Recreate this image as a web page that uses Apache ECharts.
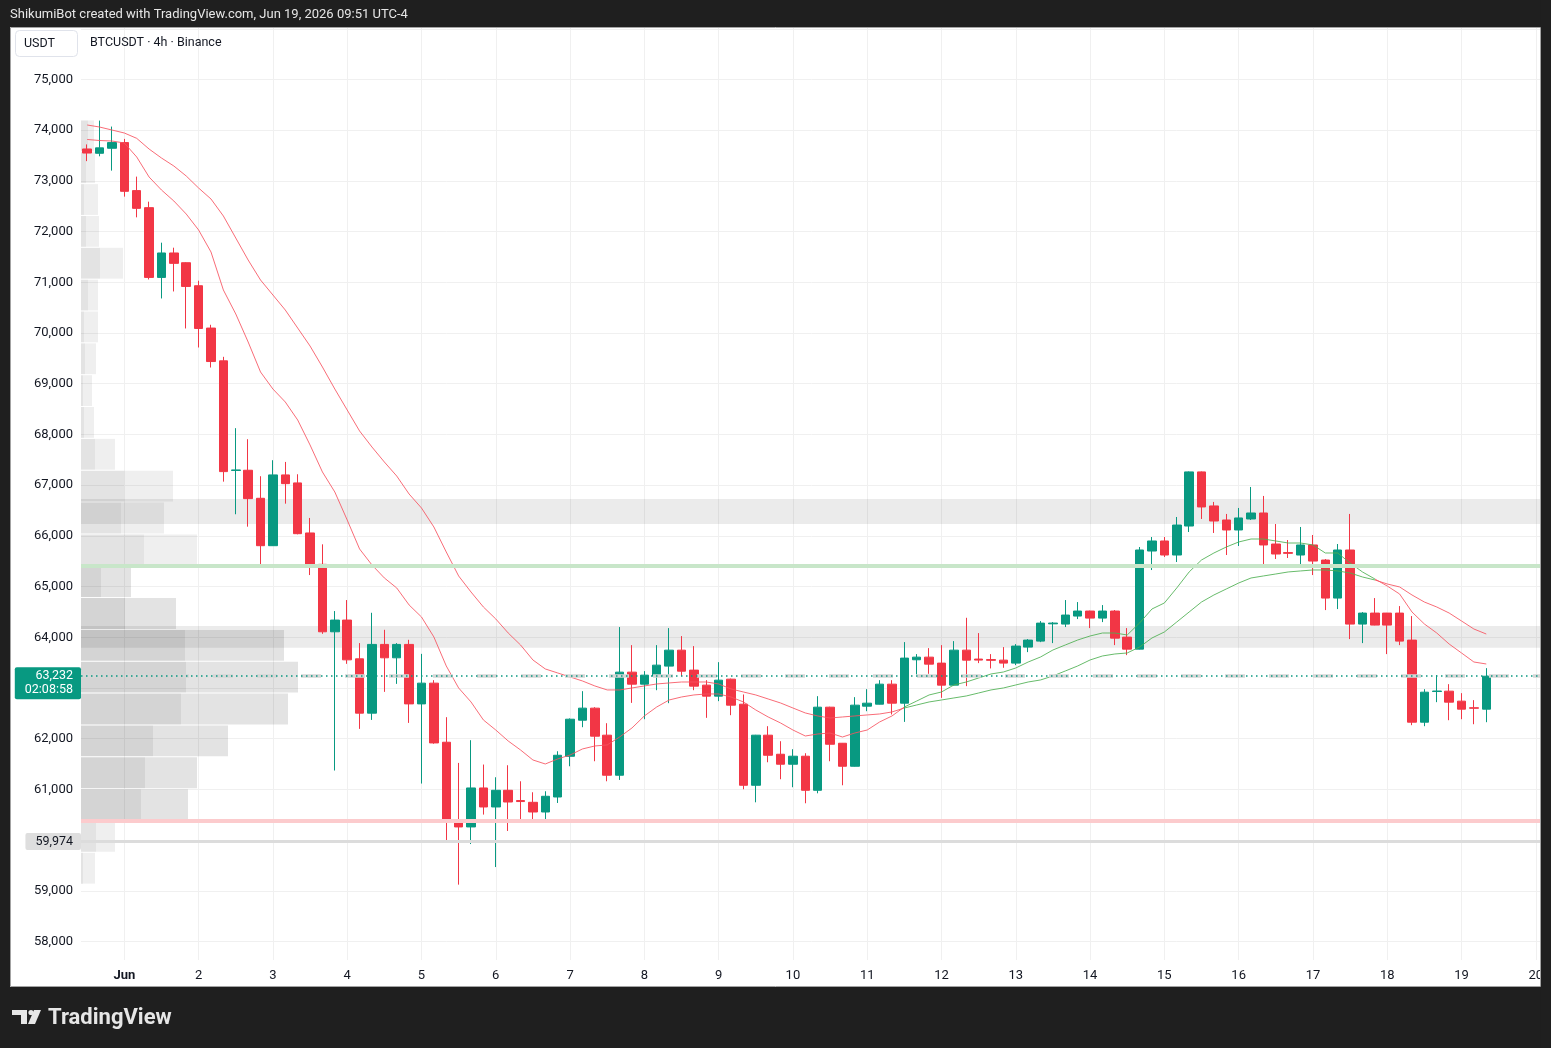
<!DOCTYPE html>
<html>
<head>
<meta charset="utf-8">
<title>BTCUSDT · 4h · Binance</title>
<script src="https://cdn.jsdelivr.net/npm/echarts@6/dist/echarts.min.js"></script>
<style>
  html, body { margin: 0; padding: 0; background: #1f1f1f; }
  #chart { width: 1551px; height: 1048px; }
</style>
</head>
<body>
<div id="chart"></div>
<script>
(function () {
  "use strict";

  // 4h bars from May 31 12:00 (UTC-4); the last 4 slots are empty space up to Jun 20
  const firstBar = Date.UTC(2026, 4, 31, 12);
  const slotCount = 118;

  // [open, high, low, close]
  const candles = [
    [73630, 73720, 73390, 73550], [73545, 74190, 73486, 73652], [73644, 74072, 73203, 73756],
    [73756, 73829, 72690, 72795], [72809, 73085, 72282, 72459], [72473, 72591, 71057, 71097],
    [71097, 71782, 70682, 71579], [71579, 71683, 70820, 71374], [71387, 71395, 70090, 70919],
    [70933, 71032, 69715, 70090], [70098, 70163, 69320, 69438], [69452, 69531, 67069, 67267],
    [67290, 68124, 66426, 67300], [67294, 67906, 66181, 66734], [66741, 67176, 65425, 65806],
    [65806, 67492, 65800, 67202], [67202, 67458, 66635, 67030], [67044, 67215, 66030, 66043],
    [66057, 66353, 65227, 65425], [65438, 65833, 64068, 64108], [64108, 64517, 61372, 64339],
    [64339, 64734, 63476, 63555], [63575, 63885, 62193, 62503], [62503, 64483, 62370, 63859],
    [63859, 64147, 62923, 63595], [63595, 63885, 63081, 63859], [63859, 63950, 62311, 62686],
    [62686, 63673, 61115, 63095], [63095, 63154, 61900, 61916], [61930, 62424, 59976, 60384],
    [60404, 61522, 59121, 60259], [60259, 61970, 59922, 61028], [61028, 61490, 60503, 60653],
    [60653, 61239, 59468, 60982], [60982, 61476, 60180, 60751], [60780, 61160, 60384, 60760],
    [60745, 60943, 60384, 60554], [60554, 60963, 60390, 60864], [60850, 61752, 60732, 61673],
    [61653, 62400, 61456, 62384], [62364, 62937, 62226, 62602], [62602, 62621, 61555, 62049],
    [62069, 62305, 61160, 61279], [61279, 64201, 61186, 63312], [63312, 63845, 62706, 63075],
    [63075, 63332, 62384, 63253], [63233, 63845, 62956, 63450], [63431, 64181, 62700, 63746],
    [63746, 64023, 63233, 63331], [63352, 63826, 62956, 63036], [63056, 63154, 62411, 62839],
    [62839, 63509, 62740, 63154], [63174, 63185, 62463, 62661], [62680, 62872, 61002, 61081],
    [61081, 62075, 60745, 62069], [62069, 62246, 61535, 61673], [61693, 61950, 61200, 61496],
    [61496, 61792, 61042, 61654], [61654, 61713, 60726, 60982], [60982, 62838, 60923, 62621],
    [62621, 62630, 61555, 61890], [61910, 61915, 61081, 61456], [61456, 62819, 61450, 62661],
    [62641, 62976, 62542, 62700], [62680, 63154, 62675, 63075], [63075, 63154, 62477, 62700],
    [62700, 63905, 62331, 63589], [63556, 63668, 63267, 63608], [63608, 63786, 63279, 63470],
    [63490, 63845, 62805, 63056], [63056, 63924, 63050, 63746], [63746, 64384, 63036, 63549],
    [63570, 64082, 63490, 63550], [63560, 63668, 63385, 63545], [63549, 63806, 63398, 63490],
    [63490, 63865, 63450, 63826], [63806, 63964, 63707, 63944], [63924, 64319, 63904, 64279],
    [64265, 64300, 63885, 64280], [64260, 64734, 64201, 64438], [64418, 64694, 64359, 64517],
    [64517, 64525, 64181, 64378], [64378, 64635, 64299, 64517], [64517, 64537, 63845, 63983],
    [64003, 64181, 63648, 63766], [63766, 65780, 63760, 65721], [65701, 65977, 65326, 65899],
    [65899, 65977, 65583, 65622], [65622, 66372, 65484, 66214], [66194, 67270, 66076, 67261],
    [67261, 67270, 66333, 66570], [66590, 66669, 66057, 66293], [66313, 66432, 65622, 66116],
    [66116, 66550, 65800, 66353], [66333, 66964, 66313, 66451], [66451, 66787, 65425, 65820],
    [65839, 66234, 65543, 65642], [65670, 65918, 65563, 65655], [65622, 66175, 65444, 65820],
    [65820, 66017, 65227, 65503], [65523, 65543, 64536, 64773], [64773, 65839, 64556, 65721],
    [65721, 66432, 63964, 64260], [64260, 64497, 63885, 64477], [64477, 64773, 64235, 64240],
    [64477, 64480, 63668, 64240], [64477, 64615, 63845, 63924], [63944, 64418, 62266, 62325],
    [62325, 62976, 62246, 62917], [62930, 63253, 62720, 62940], [62937, 63075, 62364, 62720],
    [62740, 62898, 62384, 62582], [62610, 62760, 62285, 62600], [62582, 63391, 62325, 63232]
  ];

  const maFast = [
    73817, 73797, 73787, 73748, 73472, 73077, 72821, 72604, 72347, 72032,
    71598, 70849, 70376, 69823, 69232, 68896, 68640, 68285, 67792, 67260,
    66865, 66313, 65741, 65426, 65170, 64972, 64637, 64400, 64006, 63434,
    63000, 62724, 62369, 62171, 61955, 61777, 61580, 61501, 61600, 61678,
    61797, 61856, 61876, 62033, 62211, 62448, 62625, 62763, 62822, 62862,
    62882, 62882, 62822, 62724, 62566, 62428, 62310, 62171, 62053, 62092,
    62112, 62033, 62112, 62171, 62329, 62448, 62625, 62743, 62862, 62921,
    63059, 63118, 63197, 63276, 63315, 63394, 63512, 63611, 63749, 63848,
    63946, 64025, 64084, 64084, 64045, 64282, 64558, 64676, 64972, 65288,
    65524, 65662, 65780, 65879, 65938, 65938, 65899, 65859, 65859, 65820,
    65662, 65662, 65465, 65288, 65150, 65011, 64853, 64498, 64262, 64084,
    63867, 63690, 63512, 63473
  ];

  const maSlow = [
    74103, 74063, 74004, 73945, 73840, 73629, 73452, 73294, 73097, 72860,
    72643, 72308, 71874, 71440, 71046, 70750, 70454, 70099, 69744, 69330,
    68896, 68482, 68068, 67752, 67457, 67180, 66825, 66549, 66175, 65682,
    65209, 64893, 64597, 64361, 64085, 63848, 63552, 63375, 63296, 63217,
    63138, 63040, 62961, 62961, 63000, 63040, 63079, 63099, 63118, 63118,
    63118, 63079, 62980, 62921, 62862, 62783, 62704, 62605, 62507, 62448,
    62408, 62428, 62448, 62468, 62487, 62527, 62605, 62665, 62724, 62763,
    62803, 62842, 62901, 62961, 63000, 63059, 63118, 63158, 63237, 63335,
    63434, 63552, 63631, 63670, 63690, 63808, 63986, 64104, 64301, 64498,
    64695, 64834, 64952, 65070, 65169, 65209, 65248, 65288, 65308, 65327,
    65327, 65308, 65268, 65189, 65130, 65051, 64992, 64834, 64695, 64597,
    64478, 64321, 64163, 64064
  ];
  // bars where the fast average is above the slow one
  const bullFrom = 66;
  const bullTo = 104;

  // visible range volume profile, 24 rows
  const vpEdges = [
    59121, 59749, 60377, 61005, 61633, 62261, 62889, 63517, 64145, 64773, 65401, 66029, 66657,
    67285, 67913, 68541, 69169, 69797, 70425, 71053, 71681, 72309, 72937, 73565, 74193
  ];
  const vpUp = [2, 15, 60, 64, 72, 100, 105, 104, 44, 20, 63, 40, 43, 14, 3, 2, 4, 3, 7, 19, 5, 3, 5, 7];
  const vpTotal = [14, 34, 107, 116, 147, 207, 217, 203, 95, 50, 116, 83, 92, 34, 13, 11, 15, 17, 17, 42, 18, 17, 14, 13];
  const valueArea = [2, 9];

  const zones = [[66234, 66727], [63794, 64222]];
  const greenLevel = 65411;
  const redLevel = 60380;
  const prevLow = 59974;
  const lastPrice = 63232;
  const barCountdown = "02:08:58";

  const upColor = "#089981";
  const downColor = "#F23645";
  const textColor = "#131722";
  const gridColor = "#f0f0f0";
  const font = "Roboto, 'Noto Sans', sans-serif";

  const num = new Intl.NumberFormat("en-US");
  const pad = (n) => String(n).padStart(2, "0");

  const categories = [];
  for (let i = 0; i < slotCount; i++) {
    const d = new Date(firstBar + i * 4 * 3600 * 1000);
    categories.push(`${d.getUTCFullYear()}-${pad(d.getUTCMonth() + 1)}-${pad(d.getUTCDate())} ${pad(d.getUTCHours())}:00`);
  }
  const isDayStart = (value) => value.slice(11, 16) === "00:00";

  const vpData = vpUp.map((up, i) => [
    vpEdges[i], vpEdges[i + 1], up, vpTotal[i], i >= valueArea[0] && i <= valueArea[1] ? 1 : 0
  ]);

  function renderProfileRow(params, api) {
    const low = api.value(0);
    const high = api.value(1);
    const inVA = api.value(4) === 1;
    const a = api.coord([0, high]);
    const b = api.coord([api.value(2), low]);
    const c = api.coord([api.value(3), low]);
    const h = b[1] - a[1] - 1;
    return {
      type: "group",
      children: [
        { type: "rect", shape: { x: a[0], y: a[1], width: b[0] - a[0], height: h },
          style: { fill: inVA ? "rgba(0,0,0,0.17)" : "rgba(0,0,0,0.11)" } },
        { type: "rect", shape: { x: b[0], y: a[1], width: c[0] - b[0], height: h },
          style: { fill: inVA ? "rgba(0,0,0,0.11)" : "rgba(0,0,0,0.062)" } }
      ]
    };
  }

  const chart = echarts.init(document.getElementById("chart"), null, { renderer: "canvas" });

  const option = {
    backgroundColor: "#1f1f1f",
    animation: false,
    textStyle: { fontFamily: font },
    grid: { left: 81, right: 9, top: 28, bottom: 88 },
    xAxis: [
      {
        type: "category",
        data: categories,
        boundaryGap: true,
        axisLine: { show: false },
        axisTick: { show: false },
        axisLabel: {
          interval: (idx, value) => isDayStart(value),
          margin: 9,
          fontSize: 13,
          color: textColor,
          fontFamily: font,
          formatter(value) {
            const day = Number(value.slice(8, 10));
            return day === 1 ? "{m|Jun}" : String(day);
          },
          rich: { m: { fontWeight: "bold", fontSize: 13, color: textColor, fontFamily: font } }
        },
        splitLine: {
          show: true,
          interval: (idx, value) => isDayStart(value),
          alignWithLabel: true,
          lineStyle: { color: gridColor, width: 1 }
        }
      },
      { type: "value", min: 0, max: 1461, show: false }
    ],
    yAxis: {
      type: "value",
      position: "left",
      min: 57635,
      max: 76016,
      splitNumber: 18,
      minInterval: 1000,
      maxInterval: 1000,
      axisLine: { show: false },
      axisTick: { show: false },
      axisLabel: {
        margin: 8,
        fontSize: 13,
        color: textColor,
        fontFamily: font,
        formatter: (v) => (v < 58000 || v > 75000 ? "" : num.format(v))
      },
      splitLine: { lineStyle: { color: gridColor }, showMinLine: false, showMaxLine: false }
    },
    visualMap: {
      show: false,
      type: "piecewise",
      seriesIndex: [2, 3],
      dimension: 0,
      pieces: [
        { lt: bullFrom, color: "#F7525F" },
        { gte: bullFrom, lte: bullTo, color: "#4CAF50" },
        { gt: bullTo, color: "#F7525F" }
      ]
    },
    series: [
      {
        name: "Volume profile",
        type: "custom",
        xAxisIndex: 1,
        yAxisIndex: 0,
        z: 1,
        silent: true,
        renderItem: renderProfileRow,
        encode: { x: [2, 3], y: [0, 1] },
        data: vpData
      },
      {
        name: "BTCUSDT",
        type: "candlestick",
        barWidth: 9,
        z: 2,
        itemStyle: {
          color: upColor,
          color0: downColor,
          borderColor: upColor,
          borderColor0: downColor,
          borderWidth: 1
        },
        data: candles.map((c) => [c[0], c[3], c[2], c[1]]),
        markArea: {
          silent: true,
          itemStyle: { color: "rgba(0,0,0,0.078)" },
          data: zones.map((z) => [{ yAxis: z[0] }, { yAxis: z[1] }])
        },
        markLine: {
          silent: true,
          symbol: ["none", "none"],
          label: { show: false },
          data: [
            { yAxis: greenLevel, lineStyle: { color: "#c8e6c9", width: 4, type: "solid" } },
            { yAxis: redLevel, lineStyle: { color: "#fccbcd", width: 4, type: "solid" } },
            {
              yAxis: prevLow,
              lineStyle: { color: "#dcdcdc", width: 3, type: "solid" },
              label: {
                show: true, position: "start", distance: 0,
                formatter: num.format(prevLow),
                color: textColor, backgroundColor: "#dedede", borderRadius: 2,
                fontSize: 12.5, fontFamily: font, padding: [2, 8, 2, 10]
              }
            },
            { yAxis: lastPrice, lineStyle: { color: "#d6d6d6", width: 3.5, type: [20, 24] } },
            {
              yAxis: lastPrice,
              lineStyle: { color: upColor, width: 1.5, type: [1.5, 3.5] },
              label: {
                show: true, position: "start", distance: 0,
                formatter: num.format(lastPrice) + "\n" + barCountdown,
                color: "#ffffff", backgroundColor: upColor, borderRadius: 2,
                fontSize: 12.5, lineHeight: 14, fontFamily: font,
                padding: [2, 8, 2, 10], offset: [0, 7]
              }
            }
          ]
        }
      },
      {
        name: "MA fast",
        type: "line",
        data: maFast,
        z: 3,
        showSymbol: false,
        silent: true,
        lineStyle: { width: 1, opacity: 0.85 }
      },
      {
        name: "MA slow",
        type: "line",
        data: maSlow,
        z: 3,
        showSymbol: false,
        silent: true,
        lineStyle: { width: 1, opacity: 0.85 }
      }
    ],
    graphic: [
      { type: "rect", z: -10, silent: true, shape: { x: 10, y: 27, width: 1530, height: 960 }, style: { fill: "#ffffff" } },
      {
        type: "text", z: 50, x: 10, y: 15,
        style: { text: "ShikumiBot created with TradingView.com, Jun 19, 2026 09:51 UTC-4", fill: "#e6e6e6",
          font: "13px " + font, verticalAlign: "middle" }
      },
      { type: "rect", z: 50, shape: { x: 15.5, y: 30.5, width: 62, height: 26, r: 4 }, style: { fill: "#ffffff", stroke: "#e0e3eb", lineWidth: 1 } },
      { type: "text", z: 51, x: 24, y: 44, style: { text: "USDT", fill: textColor, font: "12.5px " + font, verticalAlign: "middle" } },
      { type: "text", z: 51, x: 90, y: 43, style: { text: "BTCUSDT · 4h · Binance", fill: textColor, font: "12.5px " + font, verticalAlign: "middle" } },
      // trim the "20" label at the panel edge
      { type: "rect", z: 60, silent: true, shape: { x: 1540.5, y: 0, width: 11, height: 1048 }, style: { fill: "#1f1f1f" } },
      { type: "rect", z: 61, silent: true, shape: { x: 10.5, y: 27.5, width: 1530, height: 959 }, style: { fill: "none", stroke: "#a3a3a3", lineWidth: 1 } },
      // TradingView logo
      { type: "rect", z: 50, shape: { x: 12, y: 1010, width: 15, height: 5 }, style: { fill: "#e6e6e6" } },
      { type: "rect", z: 50, shape: { x: 21, y: 1010, width: 6, height: 14 }, style: { fill: "#e6e6e6" } },
      { type: "circle", z: 50, shape: { cx: 31, cy: 1012.5, r: 2.6 }, style: { fill: "#e6e6e6" } },
      { type: "polygon", z: 50, shape: { points: [[34, 1010], [41, 1010], [35, 1024], [28, 1024]] }, style: { fill: "#e6e6e6" } },
      { type: "text", z: 50, x: 48, y: 1018, style: { text: "TradingView", fill: "#e6e6e6", font: "bold 22px " + font, verticalAlign: "middle" } }
    ]
  };

  chart.setOption(option);
})();
</script>
</body>
</html>
